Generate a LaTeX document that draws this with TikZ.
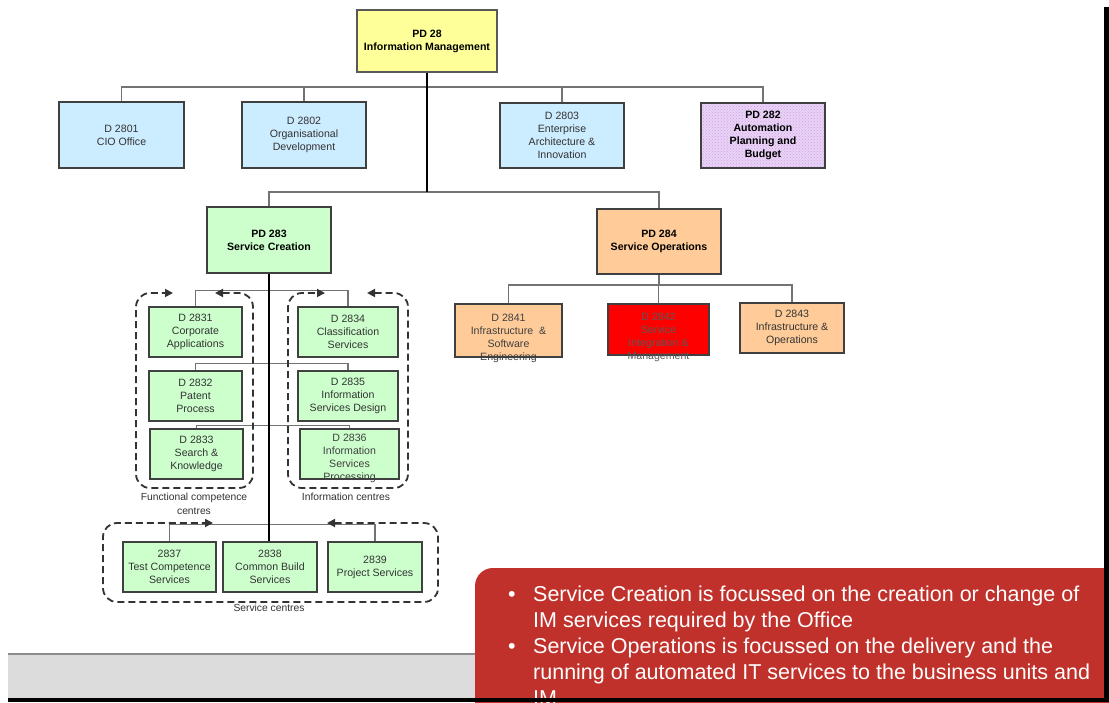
\documentclass[tikz,border=0pt]{standalone}
\usepackage{fontspec}
\setmainfont{Liberation Sans}
\usetikzlibrary{arrows.meta,patterns}

\definecolor{boxyellow}{HTML}{FFFF99}
\definecolor{boxblue}{HTML}{CCECFF}
\definecolor{boxlilac}{HTML}{E8D2FA}
\definecolor{boxgreen}{HTML}{CCFFCC}
\definecolor{boxorange}{HTML}{FFCC99}
\definecolor{boxred}{HTML}{FF0000}
\definecolor{notered}{HTML}{C0312B}
\definecolor{barfill}{HTML}{DCDCDC}

\begin{document}
\begin{tikzpicture}[x=1pt, y=-1pt, >={Triangle[length=8pt,width=8pt]}, font=\fontsize{10.6}{13}\selectfont]

\tikzset{
  box/.style={draw=black!75, line width=1.1pt, align=center, inner sep=0pt, text=black!80},
  head/.style={box, text=black, font=\fontsize{10.6}{13}\selectfont\bfseries},
  boxtext/.style={align=center, inner sep=0pt, text=black!75},
  link/.style={draw=black!55, line width=1.2pt},
  trunk/.style={draw=black, line width=1.2pt},
  frame/.style={<->, draw=black!80, line width=1.8pt, dash pattern=on 7pt off 4pt, rounded corners=14pt},
  caption/.style={align=center, inner sep=0pt, text=black!80, font=\fontsize{10.3}{14}\selectfont},
  note/.style={anchor=north west, inner sep=0pt, text=white, font=\fontsize{21.5}{26}\selectfont}
}

\useasboundingbox (0,0) rectangle (1109,702);

\begin{scope}
\clip (0,0) rectangle (1109,702);
\fill[white] (0,0) rectangle (1109,702);

% --- Nível superior ---
\node[head, line width=2.4pt, draw=black!65, fill=boxyellow, minimum width=140pt, minimum height=62pt] (pd28) at (427,41) {PD 28\\Information Management};

\node[box, fill=boxblue, minimum width=125pt, minimum height=66pt] (d2801) at (121.5,135) {D 2801\\CIO Office};
\node[box, fill=boxblue, minimum width=124pt, minimum height=66pt] (d2802) at (304,135) {D 2802\\Organisational\\Development};
\node[box, fill=boxblue, minimum width=124pt, minimum height=65pt] (d2803) at (562,135.5) {D 2803\\Enterprise\\Architecture \&\\Innovation};
\node[head, preaction={fill=boxlilac}, pattern=crosshatch dots, pattern color=violet!35, minimum width=124pt, minimum height=65pt] (pd282) at (763,135.5) {PD 282\\Automation\\Planning and\\Budget};

% --- Service Creation / Service Operations ---
\node[head, fill=boxgreen, minimum width=124pt, minimum height=66pt] (pd283) at (269,240) {PD 283\\Service Creation};
\node[head, fill=boxorange, minimum width=124pt, minimum height=65pt] (pd284) at (659,241.5) {PD 284\\Service Operations};

% Departamentos de Service Operations
\node[box, fill=boxorange, minimum width=107pt, minimum height=53pt] (d2841) at (508.5,330.5) {};
\node[boxtext] (d2841txt) at (508.5,338.5) {D 2841\\Infrastructure \ \&\\Software\\Engineering};
\node[box, fill=boxred, minimum width=101pt, minimum height=51pt] (d2842) at (658.5,329.5) {};
\node[boxtext, text=black!65] (d2842txt) at (658.5,337) {D 2842\\Service\\Integration \&\\Management};
\node[box, fill=boxorange, minimum width=104pt, minimum height=50pt] (d2843) at (792,328) {D 2843\\Infrastructure \&\\Operations};

% Centros de competência e de informação
\node[box, fill=boxgreen, minimum width=93pt, minimum height=50pt] (d2831) at (195.5,332) {D 2831\\Corporate\\Applications};
\node[box, fill=boxgreen, minimum width=93pt, minimum height=50pt] (d2832) at (195.5,396) {D 2832\\Patent\\Process};
\node[box, fill=boxgreen, minimum width=93pt, minimum height=50pt] (d2833) at (196.5,454) {D 2833\\Search \&\\Knowledge};

\node[box, fill=boxgreen, minimum width=100pt, minimum height=50pt] (d2834) at (348,332) {D 2834\\Classification\\Services};
\node[box, fill=boxgreen, minimum width=100pt, minimum height=50pt] (d2835) at (348,396) {D 2835\\Information\\Services Design};
\node[box, fill=boxgreen, minimum width=99pt, minimum height=50pt] (d2836) at (349.5,454) {};
\node[boxtext] (d2836txt) at (349.5,458) {D 2836\\Information\\Services\\Processing};

% Service centres
\node[box, fill=boxgreen, minimum width=93pt, minimum height=50pt] (s2837) at (169.5,567) {2837\\Test Competence\\Services};
\node[box, fill=boxgreen, minimum width=94pt, minimum height=50pt] (s2838) at (270,567) {2838\\Common Build\\Services};
\node[box, fill=boxgreen, minimum width=94pt, minimum height=50pt] (s2839) at (375,567) {2839\\Project Services};

% --- Ligações ---
\coordinate (hub1) at (427,87);
\coordinate (hub2) at (427,192);
\coordinate (hub3) at (659,285);

\draw[link] (d2801.north) |- (hub1) -| (pd282.north);
\draw[link] (d2802.north) -- (d2802.north |- hub1);
\draw[link] (d2803.north) -- (d2803.north |- hub1);
\draw[link] (pd283.north) |- (hub2) -| (pd284.north);
\draw[trunk] (pd28.south) -- (hub2);

\draw[link] (pd284.south) -- (hub3);
\draw[link] (d2841.north) |- (hub3) -| (d2843.north);
\draw[link] (d2842.north) -- (d2842.north |- hub3);

\draw[link] (d2831.north) -- ++(0,-16) -| (d2834.north);
\draw[link] (d2832.north) -- ++(0,-7) -| (d2835.north);
\draw[link] (d2833.north) -- ++(0,-3) -| (d2836.north);
\draw[link] (s2837.north) -- ++(0,-17) -| (s2839.north);
\draw[trunk] (pd283.south) -- (pd283.south |- s2838.north);

% --- Agrupamentos tracejados ---
\draw[frame] (215,293) -- (253,293) -- (253,488) -- (136,488) -- (136,293) -- (173,293);
\draw[frame] (367,293) -- (408,293) -- (408,488) -- (288,488) -- (288,293) -- (325,293);
\draw[frame] (327,523) -- (438,523) -- (438,602) -- (103,602) -- (103,523) -- (213,523);

\node[caption] (fcc) at (194,503.5) {Functional competence\\centres};
\node[caption] (infc) at (346,497) {Information centres};
\node[caption] (svc) at (269,608) {Service centres};

% --- Rodapé e nota ---
\fill[barfill] (8,654) rectangle (1104,698);
\draw[black!45, line width=1.5pt] (8,654) -- (1104,654);
\fill[notered, rounded corners=18pt] (475,568) rectangle (1140,730);
\node[note] (notes) at (503,583) {%
  \begin{tabular}{@{}p{30pt}@{}l@{}}
  \hspace*{5pt}\textbullet & Service Creation is focussed on the creation or change of\\
  & IM services required by the Office\\
  \hspace*{5pt}\textbullet & Service Operations is focussed on the delivery and the\\
  & running of automated IT services to the business units and\\
  & IM
  \end{tabular}};

\fill[black] (1104,7) rectangle (1109,702);
\fill[black] (8,698) rectangle (1109,702);
\end{scope}

\end{tikzpicture}
\end{document}
